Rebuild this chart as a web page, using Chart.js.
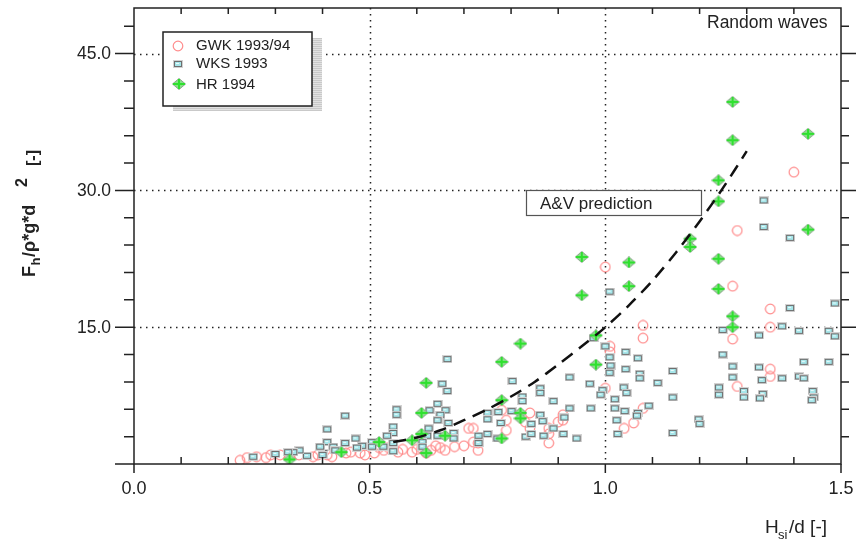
<!DOCTYPE html>
<html>
<head>
<meta charset="utf-8">
<script src="https://cdn.jsdelivr.net/npm/chart.js@4.4.1/dist/chart.umd.min.js"></script>
<style>
  html, body { margin: 0; padding: 0; background: #fff; }
</style>
</head>
<body>
<canvas id="chart" width="857" height="543"></canvas>
<script>
// GWK 1993/94 (red circles)
const gwkX = [1.40, 1.28, 1.00, 1.27, 1.35, 1.27, 1.08, 1.08, 1.35, 1.01, 1.01, 1.35, 1.35, 1.28, 1.00, 1.08, 1.06, 1.04,
  0.84, 0.83, 0.84, 0.91, 0.91, 0.88, 0.88, 0.79, 0.79, 0.78, 0.72, 0.72, 0.73, 0.88, 0.90,
  0.54, 0.57, 0.59, 0.63, 0.65, 0.68, 0.71, 0.73, 0.225, 0.24, 0.26, 0.28, 0.29, 0.31, 0.33, 0.35,
  0.38, 0.39, 0.41, 0.42, 0.45, 0.46, 0.48, 0.49, 0.51, 0.52, 0.53, 0.55, 0.56, 0.60, 0.62, 0.66, 0.70, 0.61, 0.64];
const gwkY = [32.0, 25.6, 21.6, 19.5, 17.0, 13.7, 15.2, 13.8, 15.0, 12.9, 12.3, 10.4, 9.6, 8.5, 8.3, 6.1, 4.5, 3.9,
  5.6, 4.6, 3.9, 4.8, 5.4, 3.9, 3.3, 4.8, 3.7, 5.9, 3.9, 2.4, 1.5, 2.3, 4.6,
  1.8, 1.6, 1.3, 1.5, 1.8, 1.9, 3.9, 2.3, 0.4, 0.7, 0.8, 0.7, 1.0, 1.0, 0.8, 1.0,
  0.8, 1.0, 1.0, 0.8, 1.2, 1.3, 1.2, 1.0, 1.2, 1.8, 1.5, 1.8, 1.3, 1.6, 1.2, 1.5, 2.0, 1.7, 2.0];

// WKS 1993 (cyan squares)
const wksX = [1.336, 1.336, 1.392, 1.009, 1.392, 1.487, 1.375, 1.411, 1.474, 1.487, 1.249, 1.326, 0.975, 1.000, 1.009,
  1.043, 1.069, 1.249, 1.270, 1.326, 1.421, 1.474, 1.011, 1.009, 1.043, 1.073, 1.073, 1.143, 1.111, 0.924, 0.967,
  0.803, 1.270, 1.332, 1.375, 1.411, 1.421, 0.862, 0.862, 0.994, 1.039, 1.241, 1.294, 1.440, 1.143, 1.241, 1.334,
  1.442, 0.990, 1.020, 1.045, 1.294, 1.328, 1.438, 1.041, 1.092, 1.069, 1.067, 1.143, 1.198, 1.200,
  0.969, 1.020, 1.024, 1.026, 0.890, 0.924, 0.824, 0.824, 0.801, 0.862, 0.867, 0.843, 0.913, 0.890, 0.831, 0.843,
  0.869, 0.911, 0.939, 0.665, 0.654, 0.665, 0.557, 0.557, 0.550, 0.550, 0.627, 0.644, 0.661, 0.650, 0.644, 0.667,
  0.678, 0.678, 0.625, 0.622, 0.644, 0.612, 0.612, 0.750, 0.750, 0.731, 0.731, 0.750, 0.773, 0.778, 0.771,
  0.537, 0.550, 0.529, 0.550, 0.448, 0.410, 0.410, 0.402, 0.470, 0.448, 0.423, 0.505, 0.505, 0.484, 0.473,
  0.367, 0.351, 0.338, 0.327, 0.300, 0.253, 0.427, 0.395, 0.400];
const wksY = [28.9, 26.0, 24.8, 18.9, 17.1, 17.6, 15.1, 14.6, 14.6, 14.0, 14.7, 14.1, 13.8, 12.9, 11.7,
  12.3, 11.6, 12.0, 10.7, 10.6, 11.2, 11.2, 10.8, 10.0, 10.4, 9.9, 9.4, 10.2, 8.9, 9.5, 8.8,
  9.1, 9.5, 9.2, 9.4, 9.6, 9.4, 8.3, 7.8, 8.1, 8.4, 8.4, 8.0, 8.0, 7.3, 7.6, 7.7,
  7.3, 7.6, 7.1, 7.8, 7.3, 7.2, 7.0, 5.8, 6.4, 5.6, 5.3, 3.4, 4.9, 4.4,
  6.1, 6.1, 4.8, 3.3, 6.9, 6.1, 7.4, 6.9, 5.8, 5.4, 4.7, 4.4, 5.1, 3.9, 3.0, 3.3,
  3.1, 3.3, 2.8, 11.5, 8.8, 8.0, 6.0, 5.4, 4.1, 3.4, 5.9, 6.6, 5.9, 5.4, 4.8, 4.5,
  3.4, 2.8, 3.9, 3.1, 3.1, 2.4, 1.9, 5.6, 4.9, 3.1, 2.3, 3.3, 5.7, 4.5, 2.8,
  3.1, 2.3, 1.9, 1.4, 5.3, 3.8, 2.4, 1.2, 2.8, 2.3, 1.9, 2.4, 1.9, 2.0, 1.8,
  0.9, 1.5, 1.3, 1.3, 1.1, 0.8, 1.5, 1.9, 1.0];

// HR 1994 (green diamonds)
const hrX = [1.27, 1.27, 1.43, 1.24, 1.24, 1.43, 1.18, 1.18, 0.95, 1.05, 1.24, 0.95, 1.05, 1.24, 1.27, 1.27,
  0.98, 0.82, 0.78, 0.98, 0.78, 0.82, 0.82, 0.78, 0.62, 0.61, 0.61, 0.66, 0.62, 0.59, 0.44, 0.33, 0.52];
const hrY = [39.7, 35.5, 36.2, 31.1, 28.8, 25.7, 24.7, 23.8, 22.7, 22.1, 22.5, 18.5, 19.5, 19.2, 16.2, 15.0,
  14.1, 13.2, 11.2, 10.9, 7.0, 5.6, 5.0, 2.8, 8.9, 5.6, 3.3, 3.1, 1.2, 2.6, 1.3, 0.5, 2.4];

// A&V prediction (dashed curve)
const avX = [0.55, 0.60, 0.65, 0.70, 0.75, 0.80, 0.85, 0.90, 0.95, 1.00, 1.05, 1.10, 1.15, 1.20, 1.25, 1.30];
const avY = [2.4, 2.9, 3.7, 4.8, 6.0, 7.4, 9.0, 10.9, 12.9, 15.0, 17.4, 20.1, 23.2, 26.6, 30.3, 34.3];

const xLabels = ['0.0', '0.5', '1.0', '1.5'];
const yLabels = ['15.0', '30.0', '45.0'];

const toPoints = (xs, ys) => xs.map((x, i) => ({ x: x, y: ys[i] }));

// marker images
function circleMarker() {
  const c = document.createElement('canvas');
  c.width = 12; c.height = 12;
  const g = c.getContext('2d');
  g.strokeStyle = '#ff8c8c';
  g.lineWidth = 1.2;
  g.beginPath();
  g.arc(6, 6, 4.8, 0, Math.PI * 2);
  g.stroke();
  return c;
}
function squareMarker() {
  const c = document.createElement('canvas');
  c.width = 10; c.height = 8;
  const g = c.getContext('2d');
  g.fillStyle = '#d2d2d2';
  g.fillRect(0, 0, 10, 8);
  g.fillStyle = '#6e6e6e';
  g.fillRect(1, 1, 8, 6);
  g.fillStyle = '#a6e6ea';
  g.fillRect(2, 2, 6, 4);
  g.fillStyle = '#eafbfb';
  g.fillRect(3, 3, 3, 1);
  return c;
}
function hrMarker() {
  const c = document.createElement('canvas');
  c.width = 14; c.height = 12;
  const g = c.getContext('2d');
  g.fillStyle = '#86e486';
  g.strokeStyle = '#8fa38f';
  g.lineWidth = 1;
  g.beginPath();
  g.moveTo(7, 0.5); g.lineTo(13.5, 6); g.lineTo(7, 11.5); g.lineTo(0.5, 6);
  g.closePath();
  g.fill(); g.stroke();
  g.fillStyle = '#2fe02f';
  g.fillRect(1, 5, 12, 2);
  g.fillRect(6, 1, 2, 10);
  return c;
}
const mCircle = circleMarker();
const mSquare = squareMarker();
const mHR = hrMarker();

const TEXT = '#222';

function txt(ctx, s, x, y, font, align) {
  ctx.font = font;
  ctx.textAlign = align || 'left';
  ctx.fillStyle = TEXT;
  ctx.fillText(s, x, y);
}

const framePlugin = {
  id: 'frame',
  beforeDatasetsDraw(chart) {
    const { ctx, chartArea: a, scales: { x, y } } = chart;
    ctx.save();
    ctx.strokeStyle = '#222';
    ctx.lineWidth = 1.5;
    ctx.setLineDash([1.5, 4.5]);
    [15, 30, 45].forEach(v => {
      const py = Math.round(y.getPixelForValue(v)) + 0.5;
      ctx.beginPath(); ctx.moveTo(a.left, py); ctx.lineTo(a.right, py); ctx.stroke();
    });
    [0.5, 1.0].forEach(v => {
      const px = Math.round(x.getPixelForValue(v)) + 0.5;
      ctx.beginPath(); ctx.moveTo(px, a.top); ctx.lineTo(px, a.bottom); ctx.stroke();
    });
    ctx.restore();
  },
  afterDatasetsDraw(chart) {
    const { ctx, chartArea: a, scales: { x, y } } = chart;
    ctx.save();
    ctx.strokeStyle = '#222';
    ctx.lineWidth = 1.5;
    ctx.strokeRect(a.left, a.top, a.right - a.left, a.bottom - a.top);

    ctx.beginPath();
    // y ticks, every 3 units
    for (let i = 0; i <= 16; i++) {
      const v = i * 3;
      const py = y.getPixelForValue(v);
      const major = v % 15 === 0;
      ctx.moveTo(a.left - (major ? 19 : 10), py); ctx.lineTo(a.left, py);
      if (v > 0) { ctx.moveTo(a.right, py); ctx.lineTo(a.right + (major ? 15 : 8), py); }
    }
    // x ticks, every 0.1
    for (let i = 0; i <= 15; i++) {
      const px = x.getPixelForValue(i / 10);
      if (i % 5 === 0) {
        ctx.moveTo(px, a.bottom); ctx.lineTo(px, a.bottom + 9);
      } else {
        ctx.moveTo(px, a.bottom); ctx.lineTo(px, a.bottom - 7);
        ctx.moveTo(px, a.top); ctx.lineTo(px, a.top + 6);
      }
    }
    ctx.stroke();

    // tick labels
    ctx.textBaseline = 'alphabetic';
    xLabels.forEach(s => txt(ctx, s, x.getPixelForValue(parseFloat(s)), 494, '18px "Liberation Sans", Arial, sans-serif', 'center'));
    ctx.textBaseline = 'middle';
    yLabels.forEach(s => txt(ctx, s, 111, y.getPixelForValue(parseFloat(s)) + 1, '17.5px "Liberation Sans", Arial, sans-serif', 'right'));
    ctx.textBaseline = 'alphabetic';

    // x title
    txt(ctx, 'H', 765, 533, '19px "Liberation Sans", Arial, sans-serif');
    txt(ctx, 'si', 778, 539, '13px "Liberation Sans", Arial, sans-serif');
    txt(ctx, '/d [-]', 789, 533, '19px "Liberation Sans", Arial, sans-serif');

    // y title (rotated)
    ctx.save();
    ctx.translate(35, 277);
    ctx.rotate(-Math.PI / 2);
    txt(ctx, 'F', 0, 0, 'bold 18px "Liberation Sans", Arial, sans-serif');
    txt(ctx, 'h', 11.5, 5, 'bold 13px "Liberation Sans", Arial, sans-serif');
    txt(ctx, '/\u03c1*g*d', 20, 0, 'bold 18px "Liberation Sans", Arial, sans-serif');
    txt(ctx, '2', 90, -8, 'bold 16px "Liberation Sans", Arial, sans-serif');
    txt(ctx, '[-]', 111, 3, 'bold 16px "Liberation Sans", Arial, sans-serif');
    ctx.restore();

    // "Random waves"
    txt(ctx, 'Random waves', 707, 28, '17.5px "Liberation Sans", Arial, sans-serif');

    // A&V prediction box
    ctx.fillStyle = '#fff';
    ctx.fillRect(526, 190, 176, 26);
    ctx.strokeStyle = '#555';
    ctx.lineWidth = 1.2;
    ctx.strokeRect(526.5, 190.5, 175, 25);
    txt(ctx, 'A&V prediction', 540, 209, '17px "Liberation Sans", Arial, sans-serif');

    // legend with shadow
    ctx.fillStyle = '#c9c9c9';
    ctx.fillRect(173, 38, 149, 73);
    ctx.strokeStyle = '#e2e2e2';
    ctx.lineWidth = 1;
    ctx.beginPath();
    for (let yy = 39; yy < 111; yy += 2) { ctx.moveTo(173, yy + 0.5); ctx.lineTo(322, yy + 0.5); }
    ctx.stroke();
    ctx.fillStyle = '#fff';
    ctx.fillRect(163, 32, 149, 74);
    ctx.strokeStyle = '#222';
    ctx.lineWidth = 1.5;
    ctx.strokeRect(163, 32, 149, 74);
    ctx.drawImage(mCircle, 178 - 6, 46 - 6);
    ctx.drawImage(mSquare, 178 - 5, 64 - 4);
    ctx.drawImage(mHR, 179 - 7, 84 - 6);
    txt(ctx, 'GWK 1993/94', 196, 50, '15px "Liberation Sans", Arial, sans-serif');
    txt(ctx, 'WKS 1993', 196, 68, '15px "Liberation Sans", Arial, sans-serif');
    txt(ctx, 'HR 1994', 196, 89, '15px "Liberation Sans", Arial, sans-serif');
    ctx.restore();
  }
};

new Chart(document.getElementById('chart'), {
  type: 'scatter',
  data: {
    datasets: [
      {
        label: 'A&V prediction',
        data: toPoints(avX, avY),
        showLine: true,
        pointRadius: 0,
        borderColor: '#111',
        borderWidth: 2.5,
        borderDash: [13, 8],
        tension: 0.3,
        order: 0
      },
      { label: 'HR 1994', data: toPoints(hrX, hrY), pointStyle: mHR, order: 1 },
      { label: 'WKS 1993', data: toPoints(wksX, wksY), pointStyle: mSquare, order: 2 },
      { label: 'GWK 1993/94', data: toPoints(gwkX, gwkY), pointStyle: mCircle, order: 3 }
    ]
  },
  options: {
    responsive: false,
    animation: false,
    layout: { padding: { left: 134, top: 8, right: 16, bottom: 79 } },
    plugins: { legend: { display: false }, tooltip: { enabled: false } },
    scales: {
      x: { type: 'linear', min: 0, max: 1.5, display: false },
      y: { type: 'linear', min: 0, max: 50, display: false }
    }
  },
  plugins: [framePlugin]
});
</script>
</body>
</html>
